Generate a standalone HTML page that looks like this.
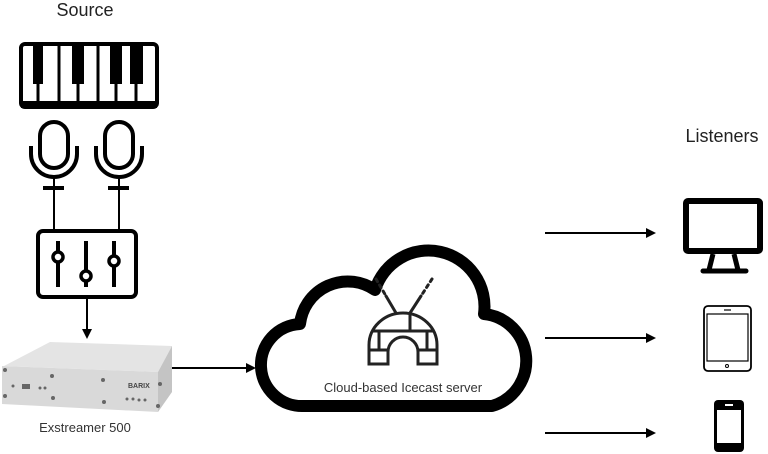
<!DOCTYPE html>
<html><head><meta charset="utf-8"><style>
html,body{margin:0;padding:0;background:#fff;}
svg{display:block;font-family:"Liberation Sans",sans-serif;}
</style></head><body>
<svg width="768" height="454" viewBox="0 0 768 454" xmlns="http://www.w3.org/2000/svg">
<rect width="768" height="454" fill="#fff"/>
<text x="85" y="16" font-size="18" text-anchor="middle" fill="#222">Source</text>
<text x="722" y="142" font-size="18" text-anchor="middle" fill="#222">Listeners</text>

<!-- piano -->
<rect x="21" y="44" width="136" height="63" rx="4" fill="#fff" stroke="#000" stroke-width="4"/>
<rect x="21" y="101" width="136" height="7" fill="#000"/>
<rect x="33" y="44" width="10" height="40" fill="#000"/>
<rect x="72" y="44" width="12" height="40" fill="#000"/>
<rect x="110" y="44" width="12" height="40" fill="#000"/>
<rect x="130" y="44" width="13" height="40" fill="#000"/>
<g stroke="#000" stroke-width="3">
<line x1="38" y1="84" x2="38" y2="102"/><line x1="59" y1="46" x2="59" y2="102"/>
<line x1="78" y1="84" x2="78" y2="102"/><line x1="98" y1="46" x2="98" y2="102"/>
<line x1="116" y1="84" x2="116" y2="102"/><line x1="136" y1="84" x2="136" y2="102"/>
</g>

<!-- mics -->
<g fill="none" stroke="#000" stroke-width="4">
<rect x="40" y="122" width="28" height="46" rx="14"/>
<path d="M31 146 v8 a23 23 0 0 0 46 0 v-8"/>
<line x1="54" y1="177" x2="54" y2="230" stroke-width="2"/>
<line x1="43" y1="188" x2="64" y2="188"/>
<rect x="105" y="122" width="28" height="46" rx="14"/>
<path d="M96 146 v8 a23 23 0 0 0 46 0 v-8"/>
<line x1="119" y1="177" x2="119" y2="230" stroke-width="2"/>
<line x1="108" y1="188" x2="129" y2="188"/>
</g>

<!-- mixer -->
<g fill="none" stroke="#000" stroke-width="4">
<rect x="38" y="231" width="98" height="66" rx="5"/>
<line x1="58" y1="241" x2="58" y2="287"/>
<line x1="86" y1="241" x2="86" y2="287"/>
<line x1="114" y1="241" x2="114" y2="287"/>
</g>
<g fill="#fff" stroke="#000" stroke-width="3.5">
<circle cx="58" cy="257" r="5"/><circle cx="86" cy="276" r="5"/><circle cx="114" cy="261" r="5"/>
</g>
<line x1="87" y1="298" x2="87" y2="330" stroke="#000" stroke-width="2"/>
<polygon points="82,329 92,329 87,339" fill="#000"/>

<!-- exstreamer -->
<polygon points="4,366 50,342 172,346 158,372" fill="#e4e4e4"/>
<polygon points="2,366 158,372 158,412 2,404" fill="#d9d9d9"/>
<polygon points="158,372 172,346 172,392 158,412" fill="#c4c4c4"/>
<g fill="#666"><circle cx="5" cy="370" r="2"/><circle cx="52" cy="376" r="2"/><circle cx="103" cy="380" r="2"/><circle cx="160" cy="384" r="2"/><circle cx="5" cy="396" r="2"/><circle cx="53" cy="398" r="2"/><circle cx="104" cy="402" r="2"/><circle cx="158" cy="406" r="2"/>
<rect x="22" y="384" width="8" height="5"/><circle cx="13" cy="386" r="1.5"/><circle cx="40" cy="388" r="1.5"/><circle cx="45" cy="388" r="1.5"/>
<circle cx="127" cy="399" r="1.5"/><circle cx="133" cy="399" r="1.5"/><circle cx="139" cy="400" r="1.5"/><circle cx="145" cy="400" r="1.5"/></g>
<text x="128" y="388" font-size="7" font-weight="bold" fill="#444">BARIX</text>
<text x="85" y="432" font-size="13" text-anchor="middle" fill="#333">Exstreamer 500</text>

<!-- cloud -->
<path d="M304 406 A41 41 0 0 1 300 324 A48 48 0 0 1 375 290 A56 56 0 0 1 484 314 A47 47 0 0 1 492 406 Z" fill="#fff" stroke="#000" stroke-width="12" stroke-linejoin="round"/>
<line x1="172" y1="368" x2="248" y2="368" stroke="#000" stroke-width="2"/>
<polygon points="246,363 256,368 246,373" fill="#000"/>
<!-- igloo -->
<g fill="none" stroke="#222" stroke-width="3" stroke-linecap="round">
<line x1="376" y1="279" x2="386" y2="296" stroke-dasharray="3,4"/>
<line x1="386" y1="296" x2="396" y2="313"/>
<line x1="432" y1="279" x2="421" y2="296" stroke-dasharray="3,4"/>
<line x1="421" y1="296" x2="410" y2="313"/>
</g>
<g fill="none" stroke="#222" stroke-width="3">
<path d="M369 364 V345 A34 32 0 0 1 437 345 V364 H418 V352 A15 15 0 0 0 388 352 V364 Z"/>
<line x1="372" y1="331" x2="434" y2="331"/>
<line x1="369" y1="350" x2="388" y2="350"/><line x1="418" y1="350" x2="437" y2="350"/>
<line x1="379" y1="331" x2="379" y2="350"/><line x1="427" y1="331" x2="427" y2="350"/>
<line x1="410" y1="314" x2="410" y2="331"/>
</g>
<text x="403" y="392" font-size="13" text-anchor="middle" fill="#333">Cloud-based Icecast server</text>

<!-- arrows right -->
<g stroke="#000" stroke-width="2">
<line x1="545" y1="233" x2="648" y2="233"/><line x1="545" y1="338" x2="648" y2="338"/><line x1="545" y1="433" x2="648" y2="433"/>
</g>
<g fill="#000"><polygon points="646,228 656,233 646,238"/><polygon points="646,333 656,338 646,343"/><polygon points="646,428 656,433 646,438"/></g>

<!-- monitor -->
<rect x="686" y="201" width="74" height="50" rx="2" fill="none" stroke="#000" stroke-width="6"/>
<path d="M713 254 L709 270 M734 254 L738 270" stroke="#000" stroke-width="5"/>
<line x1="703" y1="271" x2="746" y2="271" stroke="#000" stroke-width="5" stroke-linecap="round"/>
<!-- tablet -->
<rect x="704" y="306" width="47" height="65" rx="4" fill="none" stroke="#000" stroke-width="1.8"/>
<rect x="707" y="314" width="41" height="47" fill="none" stroke="#000" stroke-width="1.2"/>
<line x1="724" y1="310" x2="731" y2="310" stroke="#000" stroke-width="1.2"/>
<circle cx="727" cy="366" r="1.5" fill="none" stroke="#000" stroke-width="1"/>
<!-- phone -->
<rect x="714" y="400" width="30" height="52" rx="4" fill="#000"/>
<rect x="717" y="410" width="24" height="33" fill="#fff"/>
<rect x="725" y="404" width="8" height="2" fill="#fff"/>
</svg>
</body></html>
